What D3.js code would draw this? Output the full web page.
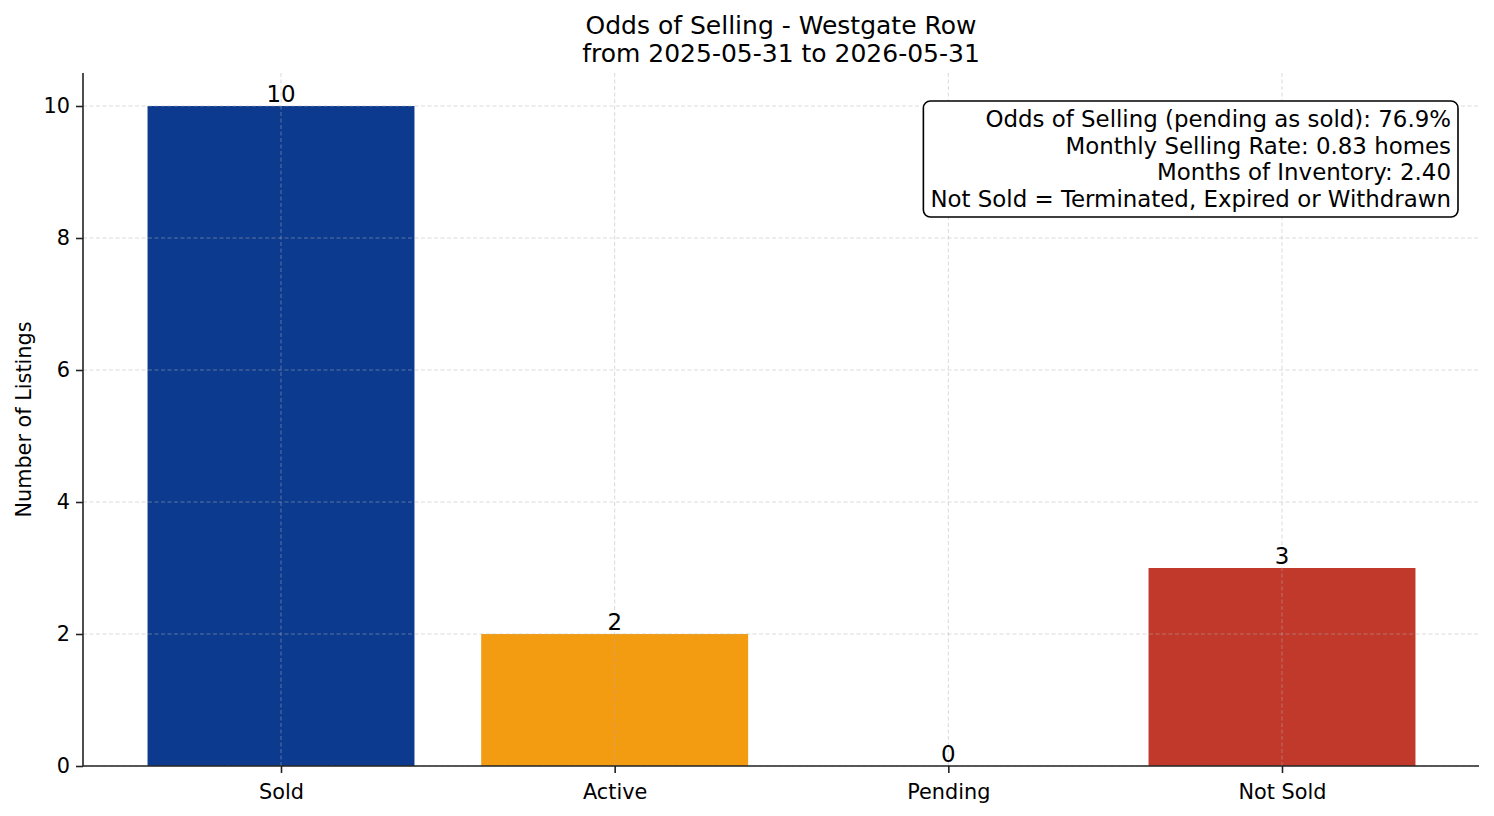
<!DOCTYPE html>
<html>
<head>
<meta charset="utf-8">
<script src="https://cdn.jsdelivr.net/npm/d3@7"></script>
<style>
  body { margin: 0; background: #fff; }
  svg text { font-family: "DejaVu Sans", sans-serif; fill: #000; }
</style>
</head>
<body>
<div id="container"></div>
<script>
const categories = ["Sold", "Active", "Pending", "Not Sold"];
const counts = [10, 2, 0, 3];
const barColors = ["#0b3a8e", "#f39c12", "#7f7f7f", "#c0392b"];
const yTicks = [0, 2, 4, 6, 8, 10];
const titleLines = ["Odds of Selling - Westgate Row", "from 2025-05-31 to 2026-05-31"];
const infoLines = [
  "Odds of Selling (pending as sold): 76.9%",
  "Monthly Selling Rate: 0.83 homes",
  "Months of Inventory: 2.40",
  "Not Sold = Terminated, Expired or Withdrawn"
];

const width = 1494, height = 816;
const margin = { top: 73, right: 15, bottom: 50, left: 83 };
const innerW = width - margin.left - margin.right;
const innerH = height - margin.top - margin.bottom;

const svg = d3.select("#container").append("svg")
  .attr("width", width).attr("height", height);

// category index -> pixel, matching the reference spacing
const x = d3.scaleLinear().domain([0, categories.length - 1]).range([198, 1199]);
const barW = 0.8 * (x(1) - x(0));
const y = d3.scaleLinear().domain([0, 10.5]).range([innerH, 0]);

const g = svg.append("g").attr("transform", `translate(${margin.left},${margin.top})`);

// bars
g.selectAll("rect.bar")
  .data(counts)
  .enter()
  .append("rect")
  .attr("class", "bar")
  .attr("x", (d, i) => x(i) - barW / 2)
  .attr("y", d => y(d))
  .attr("width", barW)
  .attr("height", d => innerH - y(d))
  .attr("fill", (d, i) => barColors[i]);

// grid (drawn over bars, faint)
const grid = g.append("g").attr("class", "grid")
  .attr("stroke", "#b0b0b0").attr("stroke-opacity", 0.6)
  .attr("stroke-width", 0.8).attr("stroke-dasharray", "4,2.5");
grid.selectAll("line.h").data(yTicks).enter().append("line")
  .attr("x1", 0).attr("x2", innerW)
  .attr("y1", d => y(d)).attr("y2", d => y(d));
grid.selectAll("line.v").data(categories).enter().append("line")
  .attr("x1", (d, i) => x(i)).attr("x2", (d, i) => x(i))
  .attr("y1", 0).attr("y2", innerH);

// axes
const yAxis = g.append("g")
  .call(d3.axisLeft(y).tickValues(yTicks).tickSize(7).tickPadding(6).tickFormat(d3.format("d")));
const xAxis = g.append("g").attr("transform", `translate(0,${innerH})`)
  .call(d3.axisBottom(x).tickValues(d3.range(categories.length)).tickSize(7).tickPadding(11)
    .tickFormat(i => categories[i]));
[yAxis, xAxis].forEach(ax => {
  ax.select(".domain").attr("stroke", "#222").attr("stroke-width", 1.6);
  ax.selectAll(".tick line").attr("stroke", "#222").attr("stroke-width", 1.6);
  ax.selectAll(".tick text").attr("font-size", "20.8px").attr("fill", "#000")
    .style("font-family", "DejaVu Sans");
});
yAxis.select(".domain").attr("d", `M0,${innerH}V0`);
xAxis.select(".domain").attr("d", `M0,0H${innerW}`);

// value labels
g.selectAll("text.value")
  .data(counts)
  .enter()
  .append("text")
  .attr("class", "value")
  .attr("x", (d, i) => x(i))
  .attr("y", d => y(d) - 4)
  .attr("text-anchor", "middle")
  .attr("font-size", "22.9px")
  .text(d => d);

// y label
svg.append("text")
  .attr("transform", `translate(31,${margin.top + innerH / 2}) rotate(-90)`)
  .attr("text-anchor", "middle")
  .attr("font-size", "20.8px")
  .text("Number of Listings");

// title
svg.append("g").selectAll("text")
  .data(titleLines)
  .enter()
  .append("text")
  .attr("x", margin.left + innerW / 2)
  .attr("y", (d, i) => 34 + i * 28)
  .attr("text-anchor", "middle")
  .attr("font-size", "25px")
  .text(d => d);

// info box, top right
const info = svg.append("g");
const infoRight = 1451;
info.selectAll("text")
  .data(infoLines)
  .enter()
  .append("text")
  .attr("x", infoRight)
  .attr("y", (d, i) => 127 + i * 26.6)
  .attr("text-anchor", "end")
  .attr("font-size", "22.9px")
  .text(d => d);

const bb = info.node().getBBox();
info.insert("rect", "text")
  .attr("x", bb.x - 7)
  .attr("y", 101)
  .attr("width", bb.width + 14)
  .attr("height", 116)
  .attr("rx", 7)
  .attr("fill", "#fff")
  .attr("stroke", "#000")
  .attr("stroke-width", 1.6);
</script>
</body>
</html>
